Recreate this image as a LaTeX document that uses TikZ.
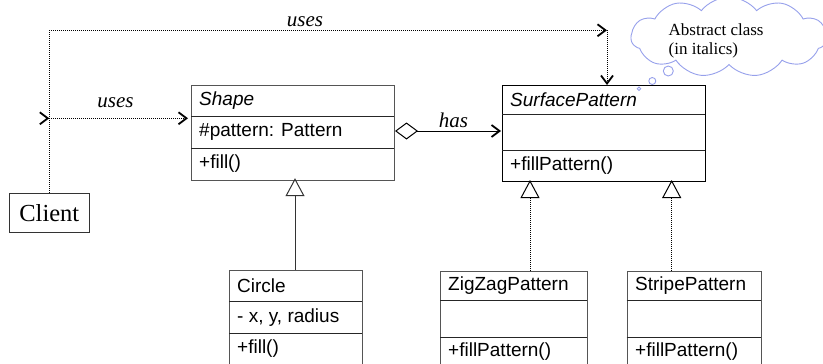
\documentclass[tikz,border=0pt]{standalone}
\usepackage{fontspec}
\setmainfont{Liberation Serif}
\setsansfont{Liberation Sans}
\usetikzlibrary{arrows.meta,shapes.symbols,calc}

\definecolor{boxgray}{RGB}{85,85,85}
\definecolor{cloudc}{RGB}{150,160,235}

\begin{document}
\begin{tikzpicture}[x=1pt,y=-1pt,
  classbox/.style={draw=boxgray,line width=1pt,rectangle,inner sep=0pt,anchor=north west},
  divider/.style={draw=black!85,line width=1pt},
  cls/.style={font=\sffamily\fontsize{19}{22}\selectfont,anchor=west,inner sep=0pt},
  clsit/.style={cls,font=\sffamily\itshape\fontsize{19}{22}\selectfont},
  lbl/.style={font=\itshape\fontsize{21}{24}\selectfont,inner sep=0pt},
  barb/.tip={Straight Barb[length=8pt,width=12pt,line width=1.8pt]},
  inherit/.tip={Triangle[open,length=18pt,width=19pt,line width=1pt]},
  agg/.tip={Diamond[open,length=23pt,width=17pt,line width=1pt]},
  usesline/.style={line width=0.8pt,dash pattern=on 1pt off 1pt},
  solidline/.style={line width=1pt,draw=black!80},
]
\useasboundingbox (0,0) rectangle (823,364);

% ---- class boxes ----
\node[classbox,minimum width=203pt,minimum height=95pt] (shape) at (191,84.5) {};
\draw[divider] (191,116.3) -- (394,116.3);
\draw[divider] (191,148.3) -- (394,148.3);
\node[clsit] (shapeT) at (199,100.4) {Shape};
\node[cls] (shapeA) at (199,132.3) {\#pattern: Pattern};
\node[cls] (shapeM) at (199,164) {+fill()};

\node[classbox,draw=black,minimum width=203pt,minimum height=96pt] (surf) at (502,84.5) {};
\draw[divider] (502,114) -- (705,114);
\draw[divider] (502,150.7) -- (705,150.7);
\node[clsit] (surfT) at (510,99.3) {SurfacePattern};
\node[cls] (surfM) at (510,165.5) {+fillPattern()};

\node[classbox,minimum width=132.4pt,minimum height=97pt] (circ) at (229.3,269.7) {};
\draw[divider] (229.3,301.3) -- (361.7,301.3);
\draw[divider] (229.3,333) -- (361.7,333);
\node[cls] (circT) at (237,285.5) {Circle};
\node[cls] (circA) at (237,317.2) {- x, y, radius};
\node[cls] (circM) at (237,348.5) {+fill()};

\node[classbox,minimum width=147.3pt,minimum height=96pt] (zig) at (440,271) {};
\draw[divider] (440,300.7) -- (587.3,300.7);
\draw[divider] (440,337.3) -- (587.3,337.3);
\node[cls] (zigT) at (448,286) {ZigZagPattern};
\node[cls] (zigM) at (448,352) {+fillPattern()};

\node[classbox,minimum width=134.6pt,minimum height=96pt] (stripe) at (626.7,271) {};
\draw[divider] (626.7,300.7) -- (761.3,300.7);
\draw[divider] (626.7,337.3) -- (761.3,337.3);
\node[cls] (stripeT) at (635,286) {StripePattern};
\node[cls] (stripeM) at (635,352) {+fillPattern()};

% ---- client ----
\node[draw=black!80,line width=1pt,minimum width=80pt,minimum height=39pt,inner sep=0pt,
      font=\fontsize{24.5}{28}\selectfont] (client) at (49.3,212.8) {Client};

% ---- dependencies (uses) ----
\coordinate (j1) at (49.3,118.3);
\coordinate (c1) at (49.3,30.3);
\coordinate (c2) at (607,30.3);
\draw[usesline] (client.north) -- (c1);
\draw[usesline,-{barb}] (c1) -- (c2);
\draw[usesline,-{barb}] (c2) -- ([yshift=-0.5pt]c2 |- surf.north);
\draw[usesline,-{barb}] (j1) -- ([xshift=-3pt]j1 -| shape.west);
\draw[usesline,-{barb}] ([xshift=-0.5pt]j1) -- (j1);
\node[lbl] (uses1) at (305,22) {uses};
\node[lbl] (uses2) at (115.5,103) {uses};

% ---- aggregation (has) ----
\draw[solidline,draw=black,{agg}-{barb}] (shape.east |- 0,131) -- ([xshift=-1pt]surf.west |- 0,131);
\node[lbl] (has) at (453.5,120) {has};

% ---- generalisations ----
\draw[solidline,-{inherit}] (circ.north -| 295,0) -- ([yshift=2.3pt]295,0 |- shape.south);
\draw[usesline,-{inherit}] (zig.north -| 530,0) -- ([yshift=1.5pt]530,0 |- surf.south);
\draw[usesline,-{inherit}] (stripe.north -| 671.7,0) -- ([yshift=1.5pt]671.7,0 |- surf.south);

% ---- note cloud ----
\node[cloud,cloud puffs=11,cloud puff arc=105,cloud ignores aspect,draw=cloudc,line width=0.9pt,
      minimum width=196pt,minimum height=80pt,inner sep=0pt] (note) at (729,37) {};
\node[align=left,anchor=north west,inner sep=0pt,font=\fontsize{17}{19}\selectfont] (noteT) at (668.5,23.5)
  {Abstract class\\(in italics)};
\draw[cloudc,line width=0.9pt] (668.3,71) circle (5pt);
\draw[cloudc,line width=0.9pt] (652.3,81) circle (3.5pt);
\draw[cloudc,line width=0.9pt] (639,88.7) circle (1.8pt);
\end{tikzpicture}
\end{document}
